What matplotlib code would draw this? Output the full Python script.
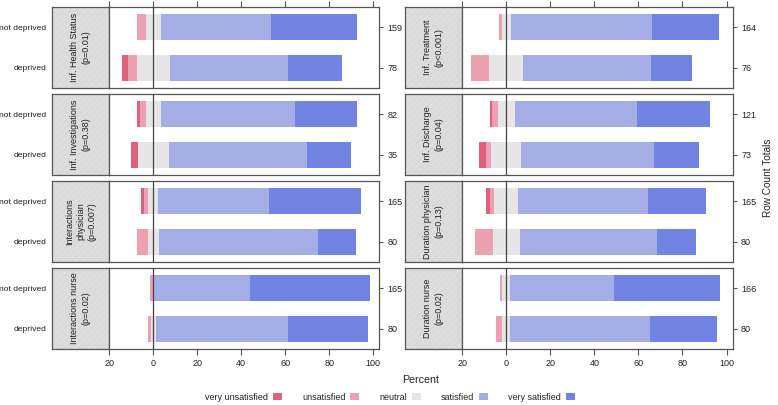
import matplotlib
matplotlib.use("Agg")
import matplotlib.pyplot as plt
from matplotlib.patches import Rectangle, Patch

plt.rcParams['font.family'] = ['Liberation Sans', 'DejaVu Sans']
plt.rcParams['font.size'] = 6.5
plt.rcParams['text.color'] = '#222222'
plt.rcParams['xtick.color'] = '#555555'
plt.rcParams['ytick.color'] = '#555555'
plt.rcParams['xtick.labelcolor'] = '#222222'
plt.rcParams['ytick.labelcolor'] = '#222222'
plt.rcParams['hatch.linewidth'] = 0.4

#------------------------------------------------------------ data
levels = ['very unsatisfied', 'unsatisfied', 'neutral', 'satisfied', 'very satisfied']
colors = ['#E0607E', '#ECA0B1', '#E6E6E6', '#A5ADE6', '#7184E1']
groups = ['not deprived', 'deprived']

# panels: left column top->bottom, then right column top->bottom
questions = ['Inf. Health Status\n(p=0.01)',
             'Inf. Investigations\n(p=0.38)',
             'Interactions\nphysician\n(p=0.007)',
             'Interactions nurse\n(p=0.02)',
             'Inf. Treatment\n(p<0.001)',
             'Inf. Discharge\n(p=0.04)',
             'Duration physician\n(p=0.13)',
             'Duration nurse\n(p=0.02)']

# percent per level, "not deprived"
very_unsat_nd = [0.0, 1.2, 1.5, 0.0, 0.0, 0.9, 2.0, 0.0]
unsat_nd      = [4.0, 2.6, 1.8, 1.5, 1.3, 2.6, 1.8, 0.9]
neutral_nd    = [6.8, 7.1, 4.6, 0.3, 4.0, 7.8, 11.1, 3.8]
sat_nd        = [50.2, 60.8, 50.3, 43.7, 64.1, 55.3, 58.9, 46.9]
very_sat_nd   = [39.0, 28.3, 41.8, 54.5, 30.6, 33.4, 26.2, 48.4]

# percent per level, "deprived"
very_unsat_d = [2.9, 3.0, 0.0, 0.0, 0.0, 3.1, 0.0, 0.0]
unsat_d      = [3.8, 0.0, 5.2, 1.5, 8.1, 2.5, 7.9, 2.7]
neutral_d    = [15.1, 14.0, 4.8, 2.1, 15.4, 13.4, 12.1, 3.5]
sat_d        = [53.7, 62.7, 72.3, 60.0, 57.9, 60.4, 62.4, 63.7]
very_sat_d   = [24.5, 20.3, 17.7, 36.4, 18.6, 20.6, 17.6, 30.1]

counts_nd = [159, 82, 165, 165, 164, 121, 165, 166]
counts_d  = [78, 35, 80, 80, 76, 73, 80, 80]

xticks = [-20, 0, 20, 40, 60, 80, 100]

#------------------------------------------------------------ layout
W, H = 778, 405
fig = plt.figure(figsize=(W / 100, H / 100), dpi=100)

def px(x0, y0, x1, y1):
    return [x0 / W, 1 - y1 / H, (x1 - x0) / W, (y1 - y0) / H]

col_strip = [(52, 109), (405, 461.7)]
col_right = [379.3, 732.7]
row_tops = [7, 94, 181, 268]
row_h = 81
frame = '#555555'

for i in range(8):
    col = i // 4
    row = i % 4
    y0 = row_tops[row]
    y1 = y0 + row_h
    s0, s1 = col_strip[col]

    # strip
    sax = fig.add_axes(px(s0, y0, s1, y1))
    sax.set_facecolor('#DDDDDD')
    sax.add_patch(Rectangle((0, 0), 1, 1, transform=sax.transAxes, facecolor='none',
                            hatch='/////', edgecolor='#D2D2D2', linewidth=0))
    sax.text(0.5, 0.5, questions[i], rotation=90, ha='center', va='center',
             transform=sax.transAxes, fontsize=6.5, linespacing=1.3)
    sax.set_xticks([])
    sax.set_ylim(0.5, 2.5)
    if col == 0:
        sax.set_yticks([1, 2])
        sax.set_yticklabels(['deprived', 'not deprived'], fontsize=6.1)
        sax.tick_params(axis='y', length=0, pad=4)
    else:
        sax.set_yticks([])
    for sp in sax.spines.values():
        sp.set_color(frame)
        sp.set_linewidth(0.9)

    # bars
    ax = fig.add_axes(px(s1, y0, col_right[col], y1))
    nd = [very_unsat_nd[i], unsat_nd[i], neutral_nd[i], sat_nd[i], very_sat_nd[i]]
    d = [very_unsat_d[i], unsat_d[i], neutral_d[i], sat_d[i], very_sat_d[i]]
    for ypos, vals in [(2, nd), (1, d)]:
        left = -(vals[0] + vals[1] + vals[2] / 2)
        for k in range(5):
            if vals[k] > 0:
                ax.barh(ypos, vals[k], left=left, height=0.63, color=colors[k], linewidth=0)
            left += vals[k]
    ax.axvline(0, color='#444444', linewidth=0.9, zorder=3)
    ax.set_xlim(-20.2, 102.8)
    ax.set_ylim(0.5, 2.5)

    ax.set_xticks(xticks)
    ax.set_xticklabels([str(abs(t)) for t in xticks])
    ax.tick_params(axis='x', length=4.5, width=0.8, pad=3,
                   top=(row == 0), bottom=(row == 3),
                   labeltop=False, labelbottom=(row == 3))

    ax.yaxis.tick_right()
    ax.set_yticks([1, 2])
    ax.set_yticklabels([str(counts_d[i]), str(counts_nd[i])])
    ax.tick_params(axis='y', length=3, width=0.8, pad=3)
    for sp in ax.spines.values():
        sp.set_color(frame)
        sp.set_linewidth(0.9)

fig.text(402 / W, 1 - 380 / H, 'Percent', ha='left', va='center', fontsize=7.7)
fig.text(768 / W, 1 - 178 / H, 'Row Count Totals', rotation=90, ha='center', va='center', fontsize=7.2)

handles = [Patch(facecolor=c, edgecolor='none') for c in colors]
fig.legend(handles, levels, ncol=5, loc='center', bbox_to_anchor=(390 / W, 1 - 397 / H),
           frameon=False, markerfirst=False, handlelength=1.0, handleheight=0.9,
           handletextpad=0.55, columnspacing=2.2, fontsize=6.5)

fig.savefig('out.png', dpi=100)
